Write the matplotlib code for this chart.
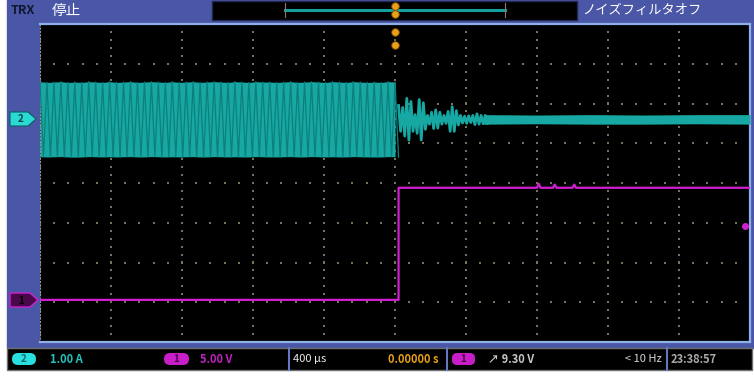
import numpy as np
import matplotlib
matplotlib.use("Agg")
import matplotlib.pyplot as plt
from matplotlib.patches import Rectangle, FancyBboxPatch, Polygon

plt.rcParams['font.family'] = ['Noto Sans CJK JP', 'DejaVu Sans']

# scope settings
time_per_div = 0.4        # ms  (400 us / div)
ch2_amps_per_div = 1.0    # CH2 current probe
ch1_volts_per_div = 5.0   # CH1 voltage
ch2_offset_div = 1.60     # CH2 ground marker, divisions above centre
ch1_offset_div = -2.94    # CH1 ground marker
trig_level_v = 9.3

# CH2 current, extremes of the carrier before the trigger (A)
ch2_pre_span = [-2.0, 0.02]
ch2_pre_peaks = [
    0.95, -0.94, 0.93, -0.95, 0.94, -0.93, 0.95, -0.94, 0.93, -0.95, 0.94, -0.95,
    0.93, -0.94, 0.95, -0.93, 0.94, -0.95, 0.93, -0.94, 0.95, -0.94, 0.93, -0.95,
    0.94, -0.93, 0.95, -0.94, 0.93, -0.95, 0.94, -0.94, 0.95, -0.93, 0.94, -0.95,
    0.93, -0.94, 0.95, -0.94, 0.93, -0.95, 0.94, -0.93, 0.95, -0.94, 0.93, -0.95,
    0.94, -0.94, 0.95, -0.93, 0.94, -0.95, 0.93, -0.94, 0.95, -0.94, 0.94, -0.95,
    0.93, -0.94, 0.95, -0.93, 0.94, -0.95, 0.94, -0.94, 0.93, -0.95, 0.94, -0.93,
    0.95, -0.94, 0.93, -0.95, 0.94, -0.94, 0.95, -0.93, 0.94, -0.95, 0.93, -0.94,
    0.95, -0.94, 0.94, -0.95, 0.93, -0.94, 0.95, -0.93, 0.94, -0.95, 0.93, -0.94,
    0.94, -0.95, 0.93, -0.94, 0.95, -0.93, 0.94, -0.95,
]
# CH2 ringing after the switch opens (A)
ch2_post_span = [0.02, 0.52]
ch2_post_peaks = [
    0.35, -0.30,
    0.30, -0.42, 0.53, -0.52, 0.45, -0.30,
    0.12,
    -0.35, 0.50, -0.52, 0.42, -0.25,
    0.10, -0.12,
    0.18, -0.23, 0.24, -0.22, 0.18, -0.12,
    0.10, -0.10,
    0.20, -0.30, 0.32, -0.30, 0.22, -0.14,
    0.10, -0.09, 0.08, -0.10, 0.09, -0.08,
    0.10, -0.13, 0.14, -0.12, 0.10, -0.11, 0.10, -0.10,
]
# CH2 residual noise band (A)
ch2_band_t = [0.50, 0.80, 1.10, 1.40, 1.70, 2.00]
ch2_band_hi = [0.12, 0.11, 0.12, 0.11, 0.12, 0.12]
ch2_band_lo = [-0.12, -0.11, -0.12, -0.12, -0.11, -0.12]

# CH1 voltage (V)
ch1_t = [-2.0, 0.02, 0.02, 0.80, 0.81, 0.82, 0.89, 0.90, 0.91, 1.00, 1.01, 1.02, 2.0]
ch1_v = [0.0, 0.0, 14.1, 14.1, 14.6, 14.1, 14.1, 14.5, 14.1, 14.1, 14.5, 14.1, 14.1]

W, H = 754, 376
BLUE = '#4a56a6'
EDGE = '#8db0e8'
TEAL = '#17a8a4'
TEAL_DK = '#0d7f7c'
MAG = '#d21fd2'
ORANGE = '#e8a018'

fig = plt.figure(figsize=(W / 100, H / 100), dpi=100, facecolor='white')

# background frame in pixel coordinates
bg = fig.add_axes([0, 0, 1, 1], zorder=0)
bg.set_xlim(0, W)
bg.set_ylim(H, 0)
bg.axis('off')
bg.add_patch(Rectangle((7, 0), W - 7, 348, color=BLUE))
bg.add_patch(Rectangle((212, 1), 365, 19, facecolor='black', edgecolor='#202850', lw=1))
bg.plot([285, 505], [10, 10], color='#13a09c', lw=2.2)
for xb in (285, 505):
    bg.plot([xb, xb], [3, 17], color='#9a7070', lw=0.8)
bg.text(11, 10.5, 'TRX', color='#101830', fontsize=9, fontweight='bold', va='center')
bg.text(52, 10.5, '停止', color='white', fontsize=10.5, va='center')
bg.text(582, 10.5, 'ノイズフィルタオフ', color='white', fontsize=9.5, va='center')

# left channel markers
bg.add_patch(Polygon([(10, 112), (28, 112), (36, 119), (28, 126), (10, 126)],
                     closed=True, facecolor='#2ad8d4', edgecolor='#0a6060', lw=0.8))
bg.text(21, 119.5, '2', color='#064040', fontsize=7, fontweight='bold', ha='center', va='center')
bg.add_patch(Polygon([(10, 293), (30, 293), (38, 300), (30, 307), (10, 307)],
                     closed=True, facecolor='#4a0848', edgecolor=MAG, lw=1))
bg.text(21, 300.5, '1', color='black', fontsize=7, fontweight='bold', ha='center', va='center')

# status bar
bg.add_patch(Rectangle((7, 348), W - 9, 22, facecolor='black', edgecolor='#707070', lw=1))
for xd in (289, 447, 667):
    bg.plot([xd, xd], [348, 370], color='#6878c0', lw=1.5)
bg.add_patch(FancyBboxPatch((12, 353), 24, 12, boxstyle='round,pad=0,rounding_size=6',
                            facecolor='#28dede', edgecolor='none'))
bg.text(24, 359.5, '2', color='#0a6a6a', fontsize=7, fontweight='bold', ha='center', va='center')
bg.text(50, 359.5, '1.00 A', color='#20c4c0', fontsize=8, fontweight='bold', va='center')
bg.add_patch(FancyBboxPatch((164, 353), 25, 12, boxstyle='round,pad=0,rounding_size=6',
                            facecolor='#c81ec8', edgecolor='none'))
bg.text(176, 359.5, '1', color='#500050', fontsize=7, fontweight='bold', ha='center', va='center')
bg.text(200, 359.5, '5.00 V', color='#c020c0', fontsize=8, fontweight='bold', va='center')
bg.text(293, 359.5, '400 µs', color='#e8e8e8', fontsize=8, va='center')
bg.text(438, 359.5, '0.00000 s', color=ORANGE, fontsize=8, fontweight='bold', ha='right', va='center')
bg.add_patch(FancyBboxPatch((452, 353), 23, 12, boxstyle='round,pad=0,rounding_size=5',
                            facecolor='#c81ec8', edgecolor='none'))
bg.text(463, 359.5, '1', color='#500050', fontsize=7, fontweight='bold', ha='center', va='center')
bg.text(488, 359.5, '↗ 9.30 V', color='#c8c8c8', fontsize=8, fontweight='bold', va='center')
bg.text(662, 359.5, '< 10 Hz', color='#d8d8d8', fontsize=8, ha='right', va='center')
bg.text(671, 359.5, '23:38:57', color='#a8a8a8', fontsize=8, fontweight='bold', va='center')
bg.scatter([395, 395], [5.5, 13.5], s=30, color=ORANGE, edgecolors='#7a4a00', linewidths=0.6, zorder=5)

# scope screen
ax = fig.add_axes([40 / W, (H - 342) / H, 710 / W, 318 / H], zorder=2)
ax.set_facecolor('black')
ax.set_xlim(-5 * time_per_div, 5 * time_per_div)
ax.set_ylim(-4, 4)
ax.set_xticks([])
ax.set_yticks([])
for side in ('top', 'bottom', 'right'):
    ax.spines[side].set_color(EDGE)
    ax.spines[side].set_linewidth(1.6)
ax.spines['left'].set_color('#8a9aa0')
ax.spines['left'].set_linestyle((0, (1, 2)))

# graticule: dots at fifth-division steps along the major lines
major_x = np.arange(-5, 6) * time_per_div
major_y = np.arange(-4, 5)
fine_y = np.arange(-4, 4.01, 0.2)
fine_x = np.arange(-5, 5.01, 0.2) * time_per_div
gx = np.concatenate([np.repeat(major_x, len(fine_y)), np.tile(fine_x, len(major_y))])
gy = np.concatenate([np.tile(fine_y, len(major_x)), np.repeat(major_y, len(fine_x))])
ax.scatter(gx, gy, s=1.8, marker='s', color='#74745a', linewidths=0, zorder=1)

# CH2 current trace
pre_t = np.linspace(ch2_pre_span[0], ch2_pre_span[1], len(ch2_pre_peaks))
pre_y = np.array(ch2_pre_peaks) / ch2_amps_per_div + ch2_offset_div
ax.fill_between(pre_t[0::2], pre_y[0::2], np.interp(pre_t[0::2], pre_t[1::2], pre_y[1::2]),
                color=TEAL, lw=0, zorder=2)
ax.plot(pre_t, pre_y, color=TEAL_DK, lw=0.9, zorder=3)
post_t = np.linspace(ch2_post_span[0], ch2_post_span[1], len(ch2_post_peaks))
post_y = np.array(ch2_post_peaks) / ch2_amps_per_div + ch2_offset_div
ax.plot(post_t, post_y, color=TEAL, lw=2.0, zorder=3)
ax.fill_between(ch2_band_t, np.array(ch2_band_hi) + ch2_offset_div,
                np.array(ch2_band_lo) + ch2_offset_div, color=TEAL, lw=0, zorder=3)

# CH1 voltage trace
ax.plot(ch1_t, np.array(ch1_v) / ch1_volts_per_div + ch1_offset_div, color=MAG, lw=1.6, zorder=4)
ax.plot([4.93 * time_per_div], [trig_level_v / ch1_volts_per_div + ch1_offset_div], 'o',
        color=MAG, ms=4, zorder=5)

# trigger position marker
ax.plot([0, 0], [3.80, 3.48], 'o', color=ORANGE, mec='#7a4a00', mew=0.6, ms=5.5,
        clip_on=False, zorder=6)

fig.savefig('out.png', dpi=100, facecolor='white')
